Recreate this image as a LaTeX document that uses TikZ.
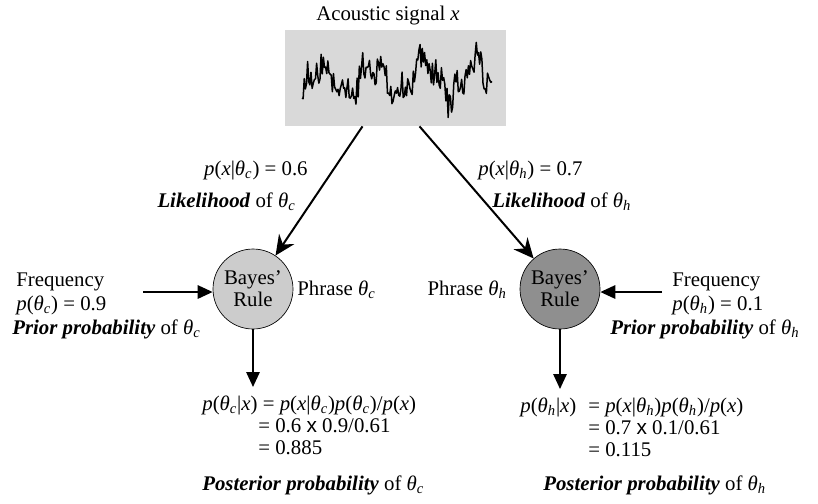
\documentclass[tikz,border=0pt]{standalone}
\usepackage{fontspec}
\setmainfont{Liberation Serif}
\newfontfamily\sansx{Liberation Sans}
\usetikzlibrary{arrows.meta, positioning, calc}
\definecolor{boxgray}{HTML}{D9D9D9}
\definecolor{lightbayes}{HTML}{CCCCCC}
\definecolor{darkbayes}{HTML}{8F8F8F}
\newcommand{\thsub}[1]{\textit{θ}\textsubscript{\textit{#1}}}
\newcommand{\pv}{\textit{p}}
\newcommand{\xv}{\textit{x}}
\newcommand{\bi}[1]{\textbf{\textit{#1}}}
\newcommand{\multx}{{\sansx x}}

\begin{document}
\begin{tikzpicture}[
  x=0.6pt, y=-0.6pt,
  every node/.style={font=\fontsize{12.5}{15}\selectfont, inner sep=0pt},
  bayes/.style={circle, draw=black, fill=#1, minimum size=48pt, align=center, font=\fontsize{12.5}{13.2}\selectfont},
  bayes/.default=lightbayes,
  arr/.style={-{Triangle[length=9pt, width=8pt]}, line width=1.2pt},
  likearr/.style={-{Stealth[length=12pt, width=11pt, inset=4pt]}, line width=1.2pt},
]
\useasboundingbox (0,0) rectangle (818,503);

% signal
\node[anchor=base] (title) at (388,20) {Acoustic signal \xv};
\node[fill=boxgray, minimum width=132.6pt, minimum height=57.6pt] (signal) at (395.5,78) {};
\pgfmathsetseed{17}
\draw[line width=0.9pt, line join=round] plot[domain=302:492, samples=170]
  (\x, {80 - 15*sin(\x*7) - 9*sin(\x*19+30) - 14*rand});

% bayes nodes
\node[bayes=lightbayes] (bayesc) at (253,289) {Bayes'\\Rule};
\node[bayes=darkbayes] (bayesh) at (560,289) {Bayes'\\Rule};
\node[anchor=base west] (phrasec) at (297,295) {Phrase \thsub{c}};
\node[anchor=base east] (phraseh) at (507,295) {Phrase \thsub{h}};

% likelihoods
\draw[likearr] ($(signal.south)+(-33,0)$) -- (bayesc);
\draw[likearr] ($(signal.south)+(24,0)$) -- (bayesh);
\node[anchor=base east] (likec) at (308,175) {\pv(\xv|\thsub{c}) = 0.6};
\node[anchor=base east] (likectxt) at (296,207) {\bi{Likelihood} of \thsub{c}};
\node[anchor=base west] (likeh) at (478,175) {\pv(\xv|\thsub{h}) = 0.7};
\node[anchor=base west] (likehtxt) at (492,207) {\bi{Likelihood} of \thsub{h}};

% priors
\node[anchor=base west] (freqc) at (16,286) {Frequency};
\node[anchor=base west] (priorc) at (16,310) {\pv(\thsub{c}) = 0.9};
\node[anchor=base west] (priorctxt) at (12,334) {\bi{Prior probability} of \thsub{c}};
\node[anchor=base west] (freqh) at (672,286) {Frequency};
\node[anchor=base west] (priorh) at (672,310) {\pv(\thsub{h}) = 0.1};
\node[anchor=base west] (priorhtxt) at (610,334) {\bi{Prior probability} of \thsub{h}};
\coordinate (inc) at (143,292);
\coordinate (inh) at (662,292);
\draw[arr] (inc) -- (bayesc.west |- inc);
\draw[arr] (inh) -- (bayesh.east |- inh);

% posteriors
\node[anchor=base west] (postc) at (202,410) {\pv(\thsub{c}|\xv) = \pv(\xv|\thsub{c})\pv(\thsub{c})/\pv(\xv)};
\node[anchor=base west] (postc2) at (258,432) {= 0.6 \multx\ 0.9/0.61};
\node[anchor=base west] (postc3) at (258,454) {= 0.885};
\node[anchor=base west] (postctxt) at (202,490) {\bi{Posterior probability} of \thsub{c}};
\node[anchor=base west] (posth) at (520,412) {\pv(\thsub{h}|\xv)};
\node[anchor=base west] (posthr) at (588,412) {= \pv(\xv|\thsub{h})\pv(\thsub{h})/\pv(\xv)};
\node[anchor=base west] (posth2) at (588,434) {= 0.7 \multx\ 0.1/0.61};
\node[anchor=base west] (posth3) at (588,456) {= 0.115};
\node[anchor=base west] (posthtxt) at (543,490) {\bi{Posterior probability} of \thsub{h}};
\draw[arr] (bayesc) -- (bayesc |- 0,387);
\draw[arr] (bayesh) -- (bayesh |- 0,389);
\end{tikzpicture}
\end{document}
